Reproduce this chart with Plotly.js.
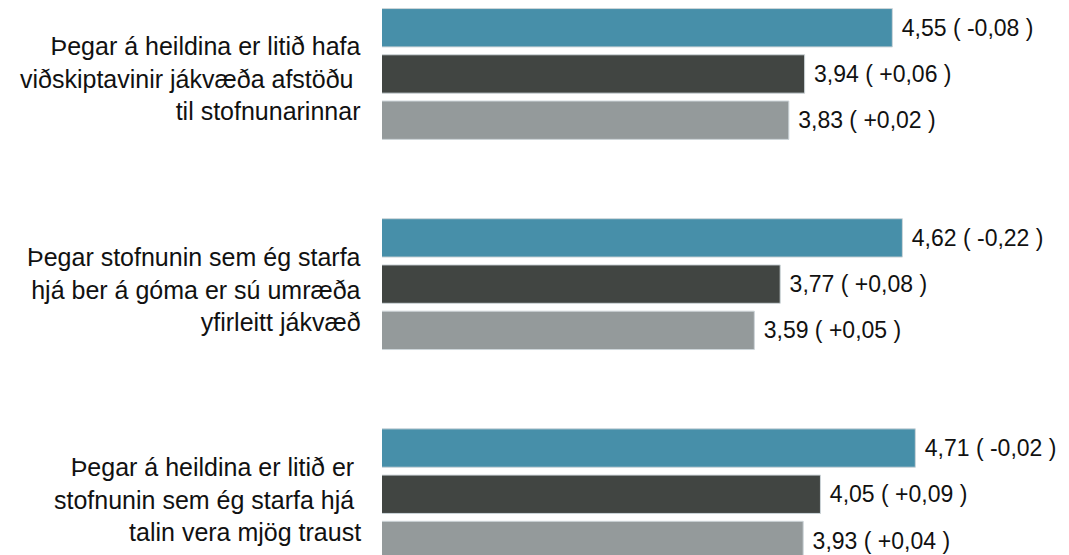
<!DOCTYPE html>
<html>
<head>
<meta charset="utf-8">
<script src="https://cdn.plot.ly/plotly-3.0.1.min.js"></script>
<style>html,body{margin:0;padding:0;background:#fff;}#chart{width:1069px;height:555px;}</style>
</head>
<body>
<div id="chart"></div>
<script>
// Categories (statements) and their wrapped display labels
var categories = ["Q1", "Q2", "Q3"];
var labels = [
  "Þegar á heildina er litið hafa<br>viðskiptavinir jákvæða afstöðu\u00A0<br>til stofnunarinnar",
  "Þegar stofnunin sem ég starfa<br>hjá ber á góma er sú umræða<br>yfirleitt jákvæð",
  "Þegar á heildina er litið er\u00A0<br>stofnunin sem ég starfa hjá\u00A0<br>talin vera mjög traust"
];

// Series values (mean scores) and change vs. previous measurement
var seriesA = [4.55, 4.62, 4.71];
var changeA = ["-0,08", "-0,22", "-0,02"];
var seriesB = [3.94, 3.77, 4.05];
var changeB = ["+0,06", "+0,08", "+0,09"];
var seriesC = [3.83, 3.59, 3.93];
var changeC = ["+0,02", "+0,05", "+0,04"];

var colors = ["#478fa9", "#414542", "#949a9b"];

function fmt(v) { return v.toFixed(2).replace(".", ","); }
function makeText(vals, chg) {
  return vals.map(function (v, i) { return "\u00A0" + fmt(v) + " ( " + chg[i] + " )"; });
}

function makeTrace(vals, chg, color) {
  return {
    type: "bar",
    orientation: "h",
    y: categories,
    x: vals,
    text: makeText(vals, chg),
    textposition: "outside",
    cliponaxis: false,
    constraintext: "none",
    textfont: {family: "Liberation Sans, Arial, sans-serif", size: 23, color: "#111111"},
    marker: {color: color, line: {color: "#cdd5d9", width: 1}},
    hoverinfo: "none",
    showlegend: false
  };
}

var data = [
  makeTrace(seriesA, changeA, colors[0]),
  makeTrace(seriesB, changeB, colors[1]),
  makeTrace(seriesC, changeC, colors[2])
];

var annotations = categories.map(function (c, i) {
  return {
    xref: "paper", x: 0, xanchor: "right", xshift: -19,
    yref: "y", y: c, yanchor: "middle", yshift: -5,
    text: labels[i], align: "right", showarrow: false,
    font: {family: "Liberation Sans, Arial, sans-serif", size: 25, color: "#111111"}
  };
});

var layout = {
  width: 1069, height: 555,
  margin: {l: 382, r: 0, t: 0, b: 0, pad: 0},
  paper_bgcolor: "#ffffff", plot_bgcolor: "#ffffff",
  barmode: "group", bargap: 0.34, bargroupgap: 0.17,
  xaxis: {range: [1, 5.779], showgrid: false, zeroline: false, showticklabels: false, showline: false, ticks: ""},
  yaxis: {type: "category", range: [2.289, -0.352], showgrid: false, zeroline: false, showticklabels: false, showline: false, ticks: ""},
  annotations: annotations,
  font: {family: "Liberation Sans, Arial, sans-serif"}
};

Plotly.newPlot("chart", data, layout, {staticPlot: true, displayModeBar: false});
</script>
</body>
</html>
